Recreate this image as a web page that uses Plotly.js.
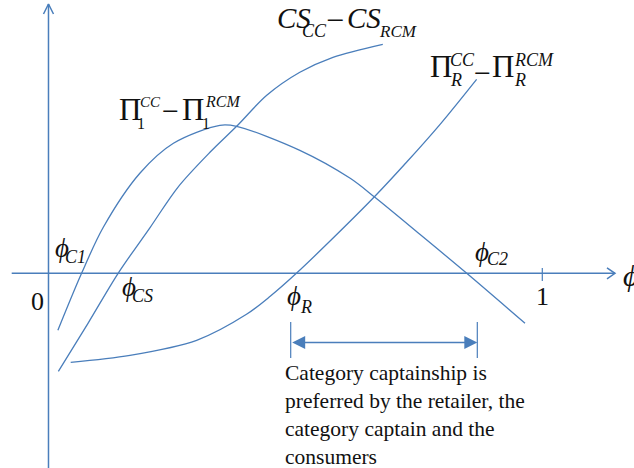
<!DOCTYPE html>
<html>
<head>
<meta charset="utf-8">
<script src="https://cdn.plot.ly/plotly-3.0.1.min.js"></script>
<style>
  html, body { margin: 0; padding: 0; background: #fff; }
  #chart { width: 634px; height: 468px; }
</style>
</head>
<body>
<div id="chart"></div>
<script>
// curve values (x = phi, y = difference, arbitrary units)
var piOneX = [0.019, 0.067, 0.111, 0.185, 0.253, 0.347, 0.381, 0.509, 0.611, 0.661, 0.752, 0.847, 0.965];
var piOneY = [-0.57, 0.0, 0.46, 1.0, 1.30, 1.48, 1.47, 1.23, 0.95, 0.76, 0.39, 0.0, -0.50];

var csX = [0.020, 0.080, 0.141, 0.206, 0.262, 0.327, 0.381, 0.442, 0.509, 0.576, 0.677];
var csY = [-0.98, -0.50, 0.0, 0.46, 0.86, 1.21, 1.47, 1.78, 2.01, 2.16, 2.29];

var piRX = [0.045, 0.165, 0.300, 0.401, 0.449, 0.502, 0.580, 0.661, 0.725, 0.793, 0.867];
var piRY = [-0.89, -0.82, -0.67, -0.41, -0.23, 0.0, 0.37, 0.77, 1.11, 1.49, 1.94];

// thresholds marked on the phi axis
var phiR = 0.4905;
var phiC2 = 0.8684;

var tickLabels = ["0", "1"];
var tickValues = [0, 1];

var xMin = -0.0745, xMax = 1.1472;   // axis arrow extent
var yMin = -1.95, yMax = 2.693;

var blue = "#4a7ebb";
var serif = "Liberation Serif, Times New Roman, serif";

function line(xs, ys, w){
    return {
        x: xs, y: ys, type: "scatter", mode: "lines",
        line: {color: blue, width: w || 1.3, shape: "linear"},
        hoverinfo: "skip", showlegend: false
    };
}

function curve(xs, ys){
    var t = line(xs, ys, 1.3);
    t.line.shape = "spline";
    t.line.smoothing = 0.9;
    return t;
}

var traces = [
    // axes with open arrow heads
    line([xMin, xMax], [0, 0], 1.5),
    line([xMax - 0.0162, xMax, xMax - 0.0162], [0.055, 0, -0.055], 1.5),
    line([0, 0], [yMin, yMax], 1.5),
    line([-0.0101, 0, 0.0101], [yMax - 0.10, yMax, yMax - 0.10], 1.5),
    line([tickValues[1], tickValues[1]], [0.053, -0.077], 1.2),
    // bracket
    line([phiR, phiR], [-0.487, -0.847], 1.2),
    line([phiC2, phiC2], [-0.487, -0.847], 1.2),
    curve(piOneX, piOneY),
    curve(csX, csY),
    curve(piRX, piRY)
];

function txt(text, x, y, size, italic, anchor){
    return {
        text: italic ? "<i>" + text + "</i>" : text,
        x: x, y: y, xref: "x", yref: "y",
        xanchor: anchor || "left", yanchor: "middle",
        showarrow: false,
        font: {family: serif, size: size, color: "#111"}
    };
}

var annotations = [
    txt(tickLabels[0], -0.0223, -0.277, 26, false, "center"),
    txt(tickLabels[1], 1.0, -0.227, 26, false, "center"),
    txt("ϕ", 1.1594, -0.02, 30, true),

    txt("ϕ", 0.0091, 0.258, 27, true),
    txt("C1", 0.0294, 0.168, 18, true),
    txt("ϕ", 0.1448, -0.137, 27, true),
    txt("CS", 0.1660, -0.222, 18, true),
    txt("ϕ", 0.4789, -0.227, 27, true),
    txt("R", 0.5053, -0.332, 18, true),
    txt("ϕ", 0.8597, 0.218, 27, true),
    txt("C2", 0.8840, 0.143, 18, true),

    // CS_CC - CS_RCM
    txt("CS", 0.4587, 2.553, 29, true),
    txt("CC", 0.5094, 2.423, 18, true),
    txt("−", 0.5802, 2.533, 32, false, "center"),
    txt("CS", 0.6005, 2.553, 29, true),
    txt("RCM", 0.6652, 2.423, 17, true),

    // Pi_R^CC - Pi_R^RCM
    txt("Π", 0.7685, 2.068, 31, false),
    txt("CC", 0.8091, 2.133, 18, true),
    txt("R", 0.8091, 1.933, 18, true),
    txt("−", 0.8789, 2.013, 30, false, "center"),
    txt("Π", 0.8941, 2.068, 31, false),
    txt("RCM", 0.9387, 2.133, 18, true),
    txt("R", 0.9387, 1.933, 18, true),

    // Pi_1^CC - Pi_1^RCM
    txt("Π", 0.1387, 1.643, 31, false),
    txt("CC", 0.1813, 1.718, 15, true),
    txt("1", 0.1752, 1.503, 16, false),
    txt("−", 0.2461, 1.633, 30, false, "center"),
    txt("Π", 0.2663, 1.643, 31, false),
    txt("RCM", 0.3129, 1.718, 16, true),
    txt("1", 0.3068, 1.503, 16, false),

    // double arrow between phi_R and phi_C2
    {
        text: "", x: phiC2, y: -0.692, ax: phiR, ay: -0.692,
        xref: "x", yref: "y", axref: "x", ayref: "y",
        showarrow: true, arrowside: "end+start", arrowhead: 2,
        arrowsize: 2, arrowwidth: 1.3, arrowcolor: blue,
        standoff: 0, startstandoff: 0
    },
    {
        text: "Category captainship is<br>preferred by the retailer, the<br>category captain and the<br>consumers",
        x: 0.4749, y: -0.86, xref: "x", yref: "y",
        xanchor: "left", yanchor: "top", align: "left",
        showarrow: false,
        font: {family: serif, size: 21.5, color: "#111"}
    }
];

var layout = {
    width: 634, height: 468,
    margin: {l: 0, r: 0, t: 0, b: 0},
    paper_bgcolor: "#fff", plot_bgcolor: "#fff",
    xaxis: {range: [-0.0982, 1.1857], showgrid: false, zeroline: false,
        showticklabels: false, ticks: "", showline: false, fixedrange: true},
    yaxis: {range: [-1.947, 2.733], showgrid: false, zeroline: false,
        showticklabels: false, ticks: "", showline: false, fixedrange: true},
    annotations: annotations,
    showlegend: false
};

Plotly.newPlot("chart", traces, layout, {staticPlot: true});
</script>
</body>
</html>
